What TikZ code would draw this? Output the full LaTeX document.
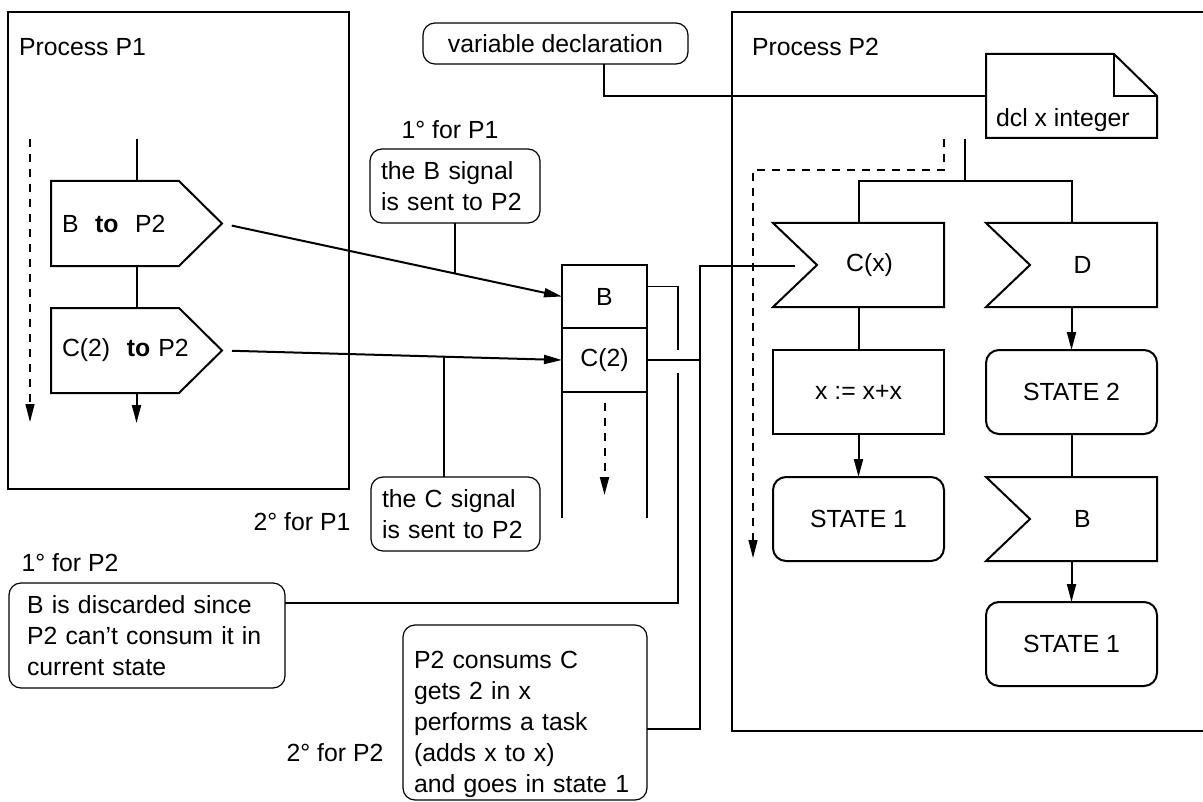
\documentclass[tikz,border=0pt]{standalone}
\usepackage{fontspec}
\setmainfont{Liberation Sans}
\usetikzlibrary{positioning,arrows.meta}

\tikzset{
  sdl/.style={line width=1pt},
  thinline/.style={line width=0.6pt},
  dashline/.style={line width=0.6pt, dash pattern=on 4pt off 3.5pt},
  sendbox/.style={rectangle, outer sep=0pt, minimum height=42.5pt, text width=74.5pt, inner xsep=5.5pt, align=left},
  inbox/.style={rectangle, outer sep=0pt, minimum width=85.5pt, minimum height=42pt, execute at begin node={\hspace*{11pt}}},
  taskbox/.style={draw, sdl, rectangle, outer sep=0pt, minimum width=85.5pt, minimum height=42pt},
  statebox/.style={taskbox, rounded corners=6.5pt},
  queuecell/.style={draw, sdl, rectangle, outer sep=0pt, minimum width=42.5pt},
  callout/.style={draw, thinline, rounded corners=6pt, align=left, outer sep=0pt, inner xsep=5.5pt},
  procbox/.style={draw, sdl, rectangle, outer sep=0pt, anchor=north west},
}

% SDL output signal: pointed on the right
\newcommand{\sendsig}[1]{\draw[sdl] (#1.north west) -- ([xshift=-21.5pt]#1.north east) -- (#1.east)
  -- ([xshift=-21.5pt]#1.south east) -- (#1.south west) -- cycle;}
% SDL input signal: notch on the left
\newcommand{\inputsig}[1]{\draw[sdl] (#1.north west) -- (#1.north east) -- (#1.south east)
  -- (#1.south west) -- ([xshift=22pt]#1.west) -- cycle;}
% text symbol with folded corner
\newcommand{\dclnote}[1]{\draw[sdl] (#1.south west) -- (#1.north west) -- ([xshift=-21.5pt]#1.north east)
  -- ([yshift=-21pt]#1.north east) -- (#1.south east) -- cycle;
  \draw[sdl] ([xshift=-21.5pt]#1.north east) |- ([yshift=-21pt]#1.north east);}

\begin{document}
\begin{tikzpicture}[x=0.5pt, y=-0.5pt, >={Triangle[length=9pt,width=4.5pt]},
    every node/.style={font=\fontsize{12.4}{15.5}\selectfont}]
  \useasboundingbox (0,0) rectangle (1203,802);

  % processes
  \node[procbox, minimum width=170.5pt, minimum height=238.5pt] (p1) at (8,12) {};
  \node[procbox, minimum width=244pt, minimum height=359.5pt] (p2) at (732,12) {};
  \node[anchor=west] (p1title) at (12,47) {Process P1};
  \node[anchor=west] (p2title) at (745,47) {Process P2};

  % P1 side
  \coordinate (p1top) at (136.5,139);
  \coordinate (p1dash) at (30,139);
  \node[sendbox] (sendB) at (136.5,223.5) {B\ \ \textbf{to}\ \ P2};
  \node[sendbox, below=21pt of sendB] (sendC) {C(2)\ \ \textbf{to} P2};
  \sendsig{sendB}
  \sendsig{sendC}
  \draw[sdl] (p1top) -- (sendB);
  \draw[sdl] (sendB) -- (sendC);
  \draw[sdl, ->] (sendC.south) -- ++(0,30);
  \draw[dashline, ->] (p1dash) -- ++(0,283);

  % input queue of P2
  \node[queuecell, minimum height=31.5pt] (qB) at (604.5,296.5) {B};
  \node[queuecell, minimum height=32pt, below=0pt of qB] (qC) {C(2)};
  \draw[sdl] (qC.south west) -- ++(0,126);
  \draw[sdl] (qC.south east) -- ++(0,126);
  \draw[sdl, dash pattern=on 4pt off 3.5pt, ->] (qC.south) ++(0,11) -- ++(0,92);

  % signals sent
  \draw[sdl, ->, shorten <=5pt] (sendB.east) -- (qB.west) coordinate[pos=0.688] (onB);
  \draw[sdl, ->, shorten <=5pt] (sendC.east) -- (qC.west) coordinate[pos=0.653] (onC);

  % P2 side
  \node[callout, align=center, minimum width=132.5pt, minimum height=20.5pt] (vardecl) at (555.5,43.5) {variable declaration};
  \node[rectangle, outer sep=0pt, minimum width=85.5pt, minimum height=42pt] (note) at (1071.5,96) {};
  \dclnote{note}
  \node[anchor=west] (dcl) at ([xshift=1.5pt,yshift=-12pt]note.west) {dcl x integer};
  \draw[thinline] ([xshift=24.25pt]vardecl.south) |- (note.west);

  \coordinate (p2top) at (965,139);
  \coordinate (fork) at (965,181);
  \coordinate (p2dash) at (944,139);
  \node[inbox] (inC) at (858.5,265) {C(x)};
  \node[inbox] (inD) at (1071.5,265) {D};
  \inputsig{inC}
  \inputsig{inD}
  \node[taskbox, below=21.5pt of inC] (task) {x := x+x};
  \node[statebox, below=21.5pt of task] (stA) {STATE 1};
  \node[statebox, below=21.5pt of inD] (stB) {STATE 2};
  \node[inbox, below=21.5pt of stB] (inB) {B};
  \inputsig{inB}
  \node[statebox, below=20.5pt of inB] (stC) {STATE 1};

  \draw[sdl] (p2top) -- (fork);
  \draw[sdl] (inC.north) |- (fork) -| (inD.north);
  \draw[sdl] (inC) -- (task);
  \draw[sdl, ->] (task) -- (stA);
  \draw[sdl, ->] (inD) -- (stB);
  \draw[sdl] (stB) -- (inB);
  \draw[sdl, ->] (inB) -- (stC);
  \draw[dashline, ->] (p2dash) -- ++(0,31) -| ++(-191,388);

  % comments
  \node (n1p1) at (450,130) {1° for P1};
  \node[callout, text width=74pt, minimum height=37pt] (sigB) at (455,186) {the B signal\\is sent to P2};
  \node (n2p1) at (302,522) {2° for P1};
  \node[callout, text width=73.5pt, minimum height=37pt] (sigC) at (455.5,514) {the C signal\\is sent to P2};
  \node (n1p2) at (70,563) {1° for P2};
  \node[callout, inner xsep=9pt, text width=120pt, minimum height=52.5pt] (discB) at (147,635.5) {B is discarded since\\P2 can't consum it in\\current state};
  \node (n2p2) at (335,753) {2° for P2};
  \node[callout, inner ysep=0pt, text width=111pt, minimum height=87.5pt] (consC) at (525,712.5) {\rule{0pt}{21pt}P2 consums C\\gets 2 in x\\performs a task\\(adds x to x)\\and goes in state 1};

  \draw[thinline] (sigB.south) -- (sigB.south |- onB);
  \draw[thinline] (onC) -- (onC |- sigC.north);

  % what P2 does with the queue
  \coordinate (cxin) at (795,266);
  \coordinate (bus) at (700,360);
  \draw[thinline] ([yshift=5pt]qB.east) -- ++(31,0) coordinate (jB) -- ++(0,63);
  \draw[thinline] (jB) ++(0,86) |- ([yshift=16.25pt]discB.east);
  \draw[thinline] (qC.east) -- (bus);
  \draw[thinline] (cxin) -| (bus) |- ([yshift=-8.25pt]consC.east);
\end{tikzpicture}
\end{document}
